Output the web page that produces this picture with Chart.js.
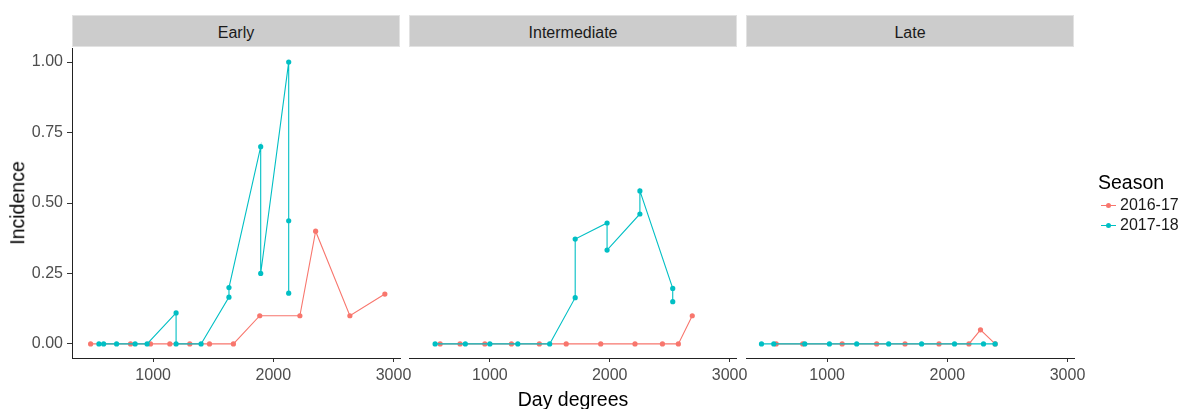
<!DOCTYPE html>
<html>
<head>
<meta charset="utf-8">
<script src="https://cdn.jsdelivr.net/npm/chart.js@4.4.1/dist/chart.umd.min.js"></script>
<style>
  body { margin: 0; background: #fff; width: 1184px; height: 409px; overflow: hidden; position: relative;
         font-family: "Liberation Sans", Arial, sans-serif; }
  canvas { position: absolute; }
  .strip { position: absolute; top: 15px; height: 32px; width: 328px; background: #cccccc;
           box-sizing: border-box; border: 1px solid #e2e2e2; color: #1a1a1a; font-size: 16px;
           text-align: center; line-height: 34px; }
  .title { position: absolute; color: #000; font-size: 19.5px; line-height: 1; white-space: nowrap; }
  .leg-item { position: absolute; left: 1100px; height: 20px; width: 84px; }
  .leg-item .ln { position: absolute; left: 1px; top: 9.5px; width: 15px; height: 1.2px; }
  .leg-item .dot { position: absolute; left: 6px; top: 7.5px; width: 5px; height: 5px; border-radius: 50%; }
  .leg-item span { position: absolute; left: 20px; top: 0; font-size: 16px; line-height: 20px; color: #1a1a1a; }
</style>
</head>
<body>

<div class="strip" style="left:72px">Early</div>
<div class="strip" style="left:409px">Intermediate</div>
<div class="strip" style="left:746px">Late</div>

<canvas id="pEarly" width="430" height="369" style="left:0px;top:40px"></canvas>
<canvas id="pInter" width="390" height="369" style="left:380px;top:40px"></canvas>
<canvas id="pLate" width="390" height="369" style="left:717px;top:40px"></canvas>

<div class="title" style="left:573px;top:390px;transform:translateX(-50%)">Day degrees</div>
<div class="title" style="left:18px;top:203px;transform:translate(-50%,-50%) rotate(-90deg)">Incidence</div>

<div class="title" style="left:1098px;top:173px">Season</div>
<div class="leg-item" style="top:195px"><div class="ln" style="background:#F8766D"></div><div class="dot" style="background:#F8766D"></div><span>2016-17</span></div>
<div class="leg-item" style="top:215px"><div class="ln" style="background:#00BFC4"></div><div class="dot" style="background:#00BFC4"></div><span>2017-18</span></div>

<script>
// ----- Dados -----
const seasons = ["2016-17", "2017-18"];
const seasonColors = ["#F8766D", "#00BFC4"];
const xTicks = [1000, 2000, 3000];
const yTicks = [0, 0.25, 0.5, 0.75, 1];

// Early
const earlyX1617 = [480, 812, 978, 1139, 1305, 1469, 1668, 1887, 2221, 2352, 2637, 2928];
const earlyY1617 = [0, 0, 0, 0, 0, 0, 0, 0.1, 0.1, 0.4, 0.1, 0.177];
const earlyX1718 = [549, 588, 696, 850, 950, 1191, 1191, 1399, 1631, 1631, 1895, 1895, 2128, 2128, 2128];
const earlyY1718 = [0, 0, 0, 0, 0, 0.11, 0, 0, 0.166, 0.2, 0.7, 0.25, 1.0, 0.437, 0.18];

// Intermediate
const interX1617 = [585, 751, 958, 1180, 1413, 1637, 1925, 2211, 2440, 2573, 2689];
const interY1617 = [0, 0, 0, 0, 0, 0, 0, 0, 0, 0, 0.1];
const interX1718 = [543, 795, 1000, 1233, 1499, 1712, 1712, 1978, 1978, 2252, 2252, 2526, 2526];
const interY1718 = [0, 0, 0, 0, 0, 0.164, 0.372, 0.429, 0.333, 0.461, 0.543, 0.197, 0.15];

// Late
const lateX1617 = [576, 797, 1125, 1412, 1648, 1931, 2180, 2276, 2398];
const lateY1617 = [0, 0, 0, 0, 0, 0, 0, 0.05, 0];
const lateX1718 = [454, 556, 814, 1019, 1246, 1512, 1786, 2060, 2301, 2398];
const lateY1718 = [0, 0, 0, 0, 0, 0, 0, 0, 0, 0];

// ----- Gráficos -----
const FONT = "'Liberation Sans', Arial, sans-serif";

function pts(xs, ys) { return xs.map((x, i) => ({ x: x, y: ys[i] })); }

function serie(i, xs, ys) {
  return {
    label: seasons[i],
    data: pts(xs, ys),
    showLine: true,
    borderColor: seasonColors[i],
    backgroundColor: seasonColors[i],
    borderWidth: 1.1,
    pointRadius: 2.6,
    pointBorderWidth: 0,
    pointBackgroundColor: seasonColors[i],
    order: i === 1 ? 1 : 2
  };
}

// chart area: top 8 (page 48), bottom 318 (page 358)
function painel(id, a, b, showY, padLeft, padRight) {
  return new Chart(document.getElementById(id), {
    type: "scatter",
    data: { datasets: [serie(0, a[0], a[1]), serie(1, b[0], b[1])] },
    options: {
      responsive: false,
      animation: false,
      layout: { padding: { left: padLeft, right: padRight, top: 8, bottom: 0 } },
      plugins: { legend: { display: false }, tooltip: { enabled: false } },
      scales: {
        x: {
          type: "linear", min: 325, max: 3054,
          afterBuildTicks: s => { s.ticks = xTicks.map(v => ({ value: v })); },
          afterFit: s => { s.height = 51; s.paddingLeft = 0; s.paddingRight = 0; },
          grid: { display: true, drawOnChartArea: false, drawTicks: true, tickLength: 4, color: "#333" },
          border: { display: true, color: "#222", width: 1 },
          ticks: { color: "#4D4D4D", font: { family: FONT, size: 16 }, padding: 4, maxRotation: 0,
                   callback: v => String(v) }
        },
        y: {
          type: "linear", min: -0.05, max: 1.05, display: showY,
          afterBuildTicks: s => { s.ticks = yTicks.map(v => ({ value: v })); },
          afterFit: s => { s.width = showY ? 72 : 0; s.paddingTop = 0; s.paddingBottom = 0; },
          grid: { display: true, drawOnChartArea: false, drawTicks: true, tickLength: 5, color: "#333" },
          border: { display: true, color: "#222", width: 1 },
          ticks: { color: "#4D4D4D", font: { family: FONT, size: 16 }, padding: 4, callback: v => v.toFixed(2) }
        }
      }
    }
  });
}

painel("pEarly", [earlyX1617, earlyY1617], [earlyX1718, earlyY1718], true, 0, 30);
painel("pInter", [interX1617, interY1617], [interX1718, interY1718], false, 29, 34);
painel("pLate", [lateX1617, lateY1617], [lateX1718, lateY1718], false, 29, 33);
</script>
</body>
</html>
